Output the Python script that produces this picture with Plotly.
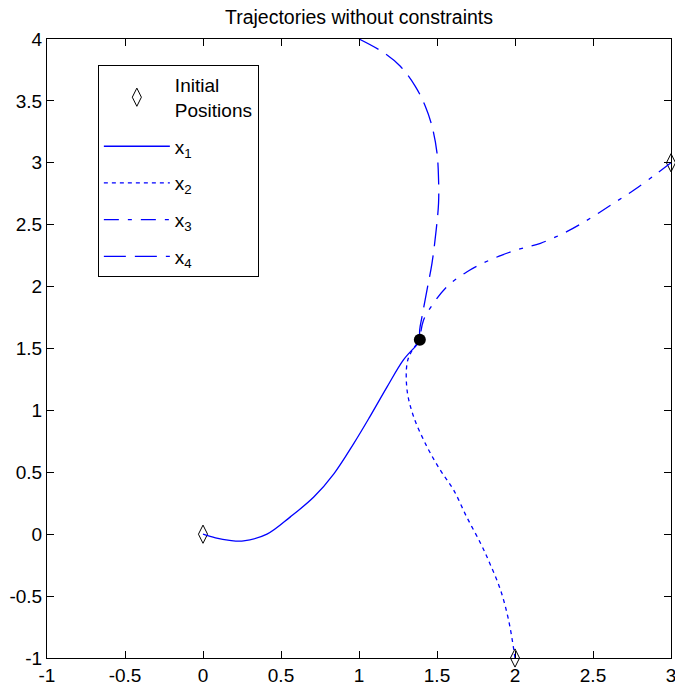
import plotly.graph_objects as go

# ---- data ----
x1_x = [0.0, 0.08, 0.17, 0.26, 0.41, 0.56, 0.71, 0.84, 0.965, 1.07, 1.18, 1.286, 1.37, 1.39]
x1_y = [0.0, -0.03, -0.05, -0.054, 0.0, 0.14, 0.30, 0.49, 0.73, 0.95, 1.19, 1.41, 1.53, 1.57]

x2_x = [2.0, 1.96, 1.907, 1.84, 1.78, 1.69, 1.607, 1.52, 1.436, 1.35, 1.308, 1.308, 1.33, 1.39]
x2_y = [-1.0, -0.70, -0.45, -0.24, -0.075, 0.14, 0.356, 0.52, 0.706, 0.95, 1.165, 1.38, 1.46, 1.57]

x3_x = [3.0, 2.913, 2.763, 2.634, 2.485, 2.335, 2.163, 2.014, 1.843, 1.693, 1.564, 1.478, 1.414, 1.39]
x3_y = [3.0, 2.918, 2.78, 2.675, 2.554, 2.446, 2.35, 2.298, 2.217, 2.12, 2.0, 1.866, 1.73, 1.57]

x4_x = [1.0, 1.158, 1.265, 1.36, 1.425, 1.468, 1.5, 1.51, 1.51, 1.495, 1.468, 1.436, 1.404, 1.389, 1.39]
x4_y = [4.0, 3.89, 3.78, 3.62, 3.457, 3.295, 3.08, 2.864, 2.675, 2.46, 2.19, 1.974, 1.758, 1.65, 1.57]

init_x = [0.0, 2.0, 3.0]
init_y = [0.0, -1.0, 3.0]

final_x = [1.39]
final_y = [1.57]

x_ticks = [-1, -0.5, 0, 0.5, 1, 1.5, 2, 2.5, 3]
x_tick_labels = ["-1", "-0.5", "0", "0.5", "1", "1.5", "2", "2.5", "3"]
y_ticks = [-1, -0.5, 0, 0.5, 1, 1.5, 2, 2.5, 3, 3.5, 4]
y_tick_labels = ["-1", "-0.5", "0", "0.5", "1", "1.5", "2", "2.5", "3", "3.5", "4"]

title_text = "Trajectories without constraints"

FONT = "Liberation Sans, Arial, sans-serif"
BLUE = "#0000FF"
LW = 1.3

fig = go.Figure()

fig.add_trace(go.Scatter(
    x=init_x, y=init_y, mode="markers", name="Initial<br>Positions",
    marker=dict(symbol="diamond-tall-open", size=13, color="black", line=dict(width=1, color="black")),
    cliponaxis=False, legendgroup="a"))

fig.add_trace(go.Scatter(x=x1_x, y=x1_y, mode="lines", name="x<sub>1</sub>",
                         line=dict(color=BLUE, width=LW, dash="solid", shape="spline", smoothing=1.0),
                         legendgroup="b"))
fig.add_trace(go.Scatter(x=x2_x, y=x2_y, mode="lines", name="x<sub>2</sub>",
                         line=dict(color=BLUE, width=LW, dash="4px,4px", shape="spline", smoothing=1.0),
                         legendgroup="c"))
fig.add_trace(go.Scatter(x=x3_x, y=x3_y, mode="lines", name="x<sub>3</sub>",
                         line=dict(color=BLUE, width=LW, dash="15px,9px,4px,9px", shape="spline", smoothing=1.0),
                         legendgroup="d"))
fig.add_trace(go.Scatter(x=x4_x, y=x4_y, mode="lines", name="x<sub>4</sub>",
                         line=dict(color=BLUE, width=LW, dash="22px,9px", shape="spline", smoothing=1.0),
                         legendgroup="e"))

fig.add_trace(go.Scatter(x=final_x, y=final_y, mode="markers", showlegend=False,
                         marker=dict(symbol="circle", size=12, color="black")))

axis_common = dict(
    showline=True, linecolor="black", linewidth=1, mirror="ticks",
    ticks="inside", ticklen=7, tickcolor="black", tickwidth=1,
    showgrid=False, zeroline=False, ticklabeloverflow="allow", automargin=False,
    tickfont=dict(family=FONT, size=19, color="black"),
)

fig.update_layout(
    width=675, height=685,
    margin=dict(l=47, r=4, t=39, b=27, autoexpand=False),
    paper_bgcolor="white", plot_bgcolor="white",
    hovermode=False,
    title=dict(text=title_text, x=0.5, xref="paper", xanchor="center",
               y=1 - 17 / 685, yref="container", yanchor="middle",
               font=dict(family=FONT, size=19.5, color="black")),
    xaxis=dict(range=[-1, 3], tickvals=x_ticks, ticktext=x_tick_labels, **axis_common),
    yaxis=dict(range=[-1, 4], tickvals=y_ticks, ticktext=y_tick_labels, **axis_common),
    legend=dict(x=0.0815, y=0.958, xanchor="left", yanchor="top",
                bordercolor="black", borderwidth=1, bgcolor="white",
                font=dict(family=FONT, size=19, color="black"),
                itemwidth=66, traceorder="grouped", tracegroupgap=9),
    showlegend=True,
)

fig.write_html(
    "out.html",
    config={"displayModeBar": False, "staticPlot": True},
    post_script="document.body.style.margin='0';document.body.style.padding='0';"
                "document.documentElement.style.overflow='hidden';",
)
